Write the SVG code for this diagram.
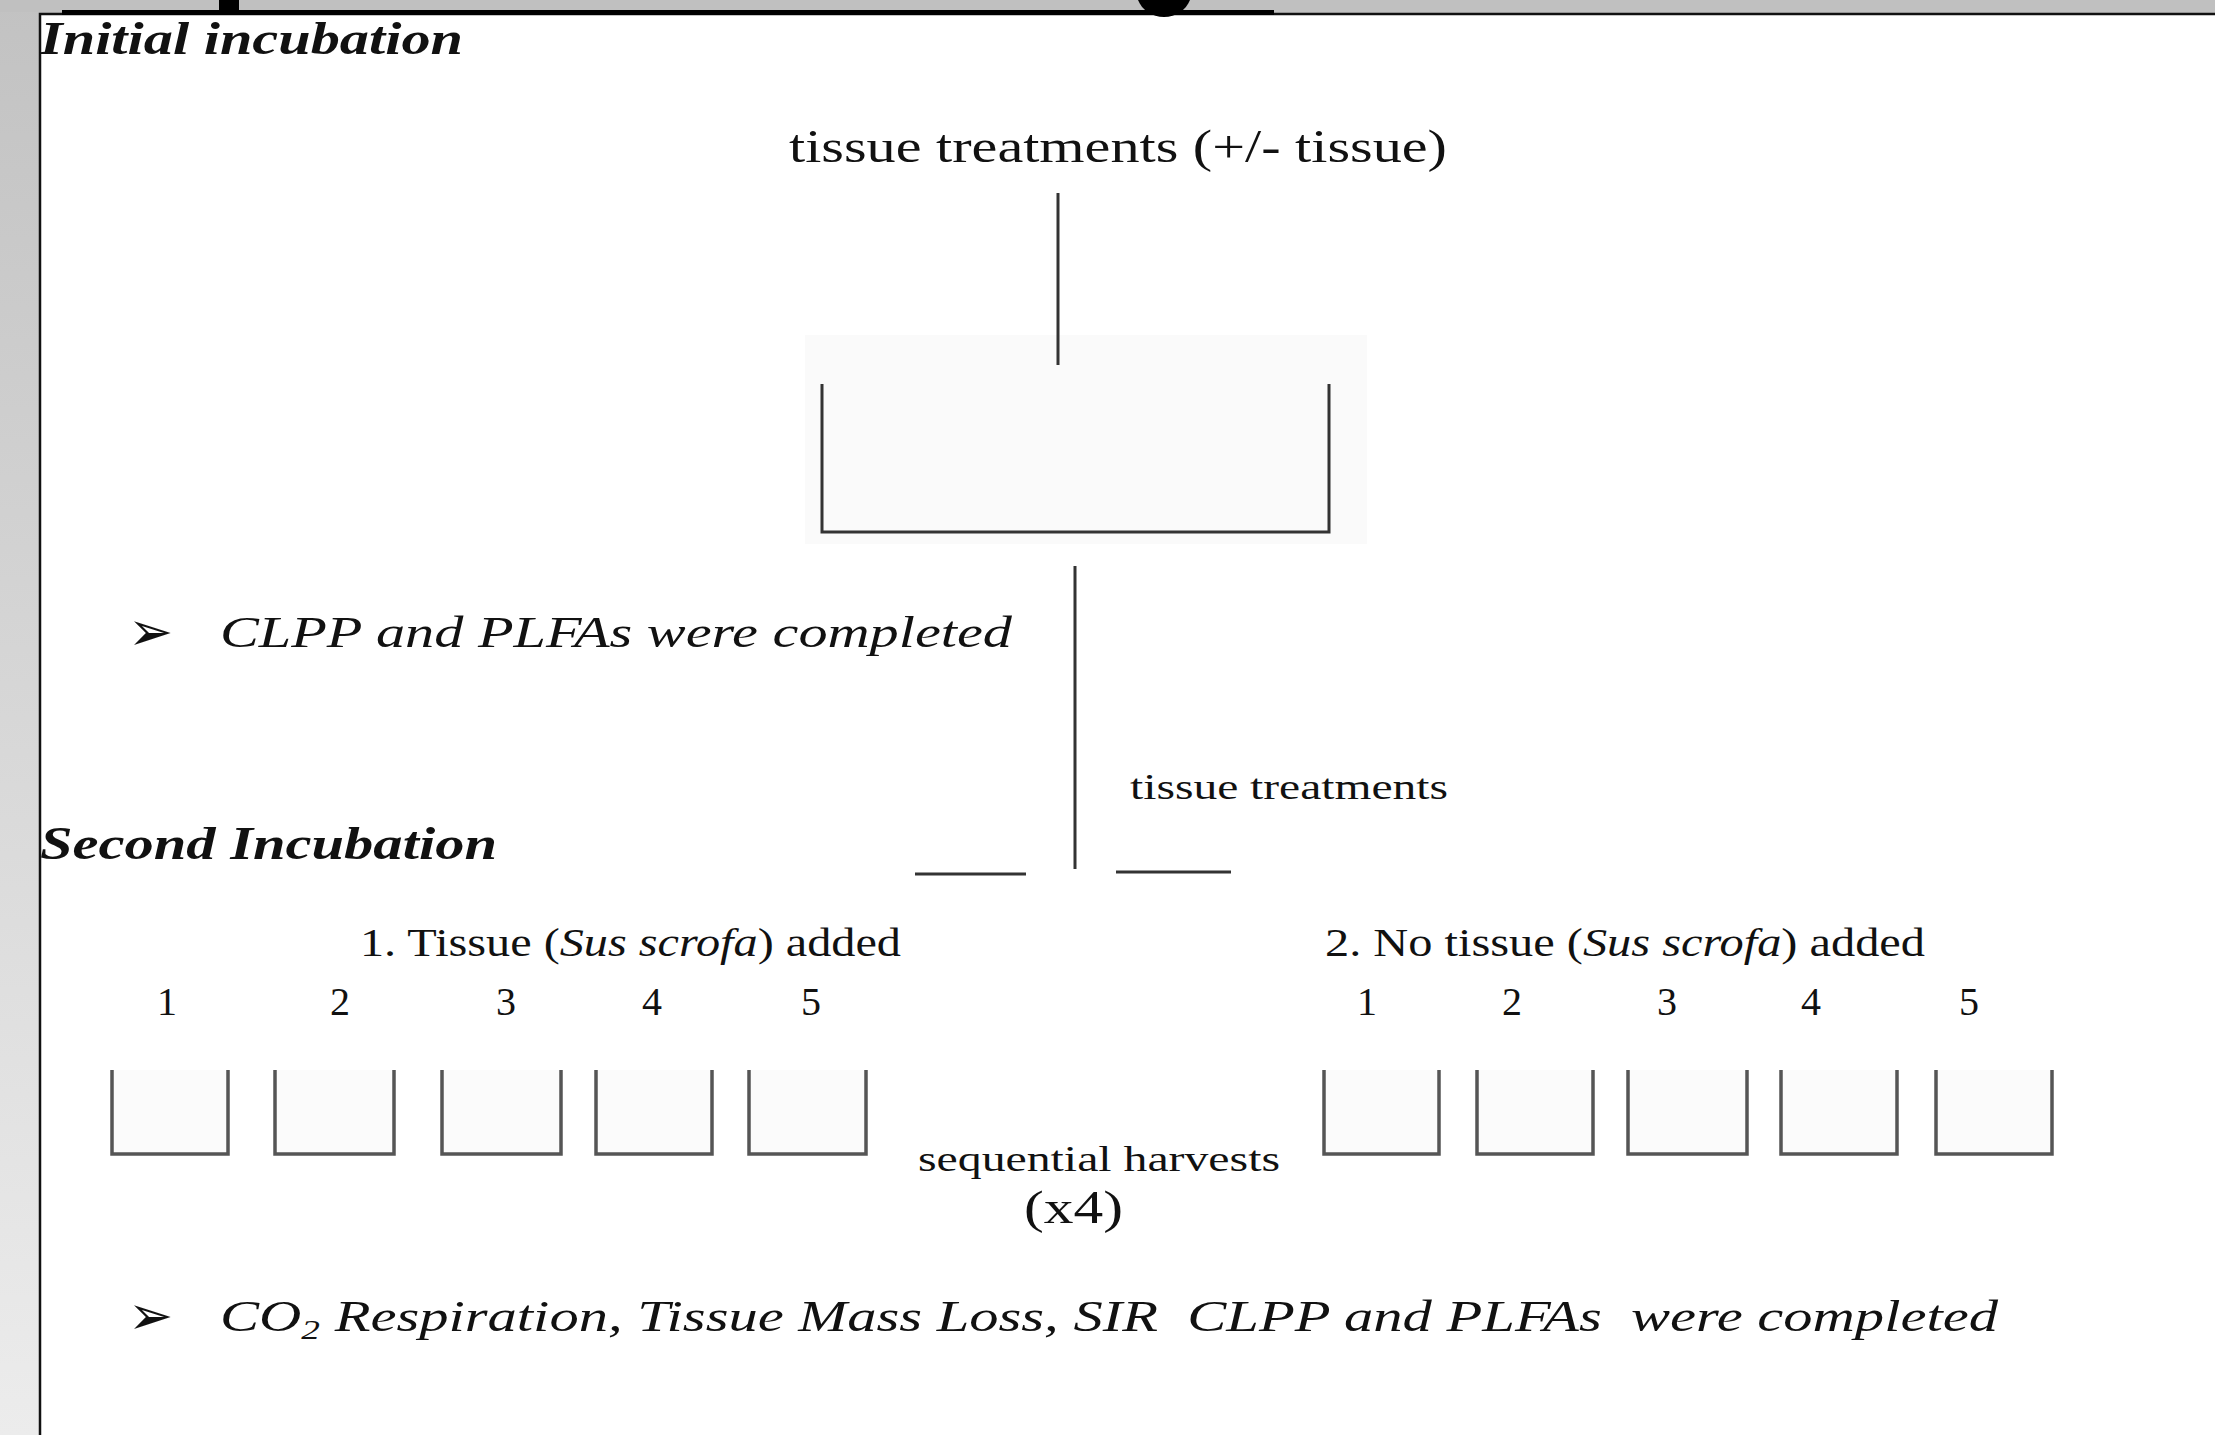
<svg xmlns="http://www.w3.org/2000/svg" width="2215" height="1435" viewBox="0 0 2215 1435">
<defs>
<linearGradient id="side" x1="0" y1="0" x2="0" y2="1">
<stop offset="0" stop-color="#c2c2c2"/>
<stop offset="1" stop-color="#ececec"/>
</linearGradient>
<style>
.serif{font-family:"Liberation Serif","Times New Roman",serif;fill:#111}
.head{font-weight:bold;font-style:italic;font-size:46px}
.note{font-style:italic;font-size:44px}
.lbl{font-size:40px}
.num{font-size:40px;text-anchor:middle}
.bul{font-family:"DejaVu Sans",sans-serif;font-size:54px;fill:#111}
.ln{stroke:#333;stroke-width:3;fill:none}
.cup{stroke:#555;stroke-width:3.5;fill:#fbfbfb}
</style>
</defs>

<!-- background -->
<rect x="0" y="0" width="2215" height="1435" fill="#c0c0c0"/>
<rect x="0" y="0" width="40" height="1435" fill="url(#side)"/>
<rect x="0" y="0" width="2215" height="12" fill="#c0c0c0"/>
<rect x="40" y="14" width="2180" height="1430" fill="#ffffff" stroke="#111" stroke-width="2.5"/>
<rect x="62" y="10" width="1212" height="5" fill="#000"/>
<rect x="219" y="0" width="20" height="11" fill="#000"/>
<path d="M1138,0 L1190,0 C1186,10 1176,17 1164,17 C1152,17 1142,10 1138,0 Z" fill="#000"/>

<!-- headings -->
<g id="heading-initial">
<text class="serif head" x="40" y="54" textLength="423" lengthAdjust="spacingAndGlyphs">Initial incubation</text>
</g>
<g id="heading-second">
<text class="serif head" x="40" y="859" textLength="457" lengthAdjust="spacingAndGlyphs">Second Incubation</text>
</g>

<!-- initial treatment label -->
<g id="node-treatments">
<text class="serif" x="789" y="162" font-size="46" textLength="658" lengthAdjust="spacingAndGlyphs">tissue treatments (+/- tissue)</text>
</g>

<!-- initial container -->
<g id="node-container">
<rect x="805" y="335" width="562" height="209" fill="#fafafa"/>
<path class="ln" d="M822,384 V532 H1329 V384"/>
</g>

<!-- note 1 -->
<g id="node-note1">
<text class="bul" x="128" y="650">➢</text>
<text class="serif note" x="220" y="647" textLength="792" lengthAdjust="spacingAndGlyphs">CLPP and PLFAs were completed</text>
</g>

<!-- second-level treatment label -->
<g id="node-treatments2">
<text class="serif" x="1130" y="799" font-size="35" textLength="318" lengthAdjust="spacingAndGlyphs">tissue treatments</text>
</g>

<!-- group labels -->
<g id="node-group1">
<text class="serif lbl" x="360" y="956" textLength="541" lengthAdjust="spacingAndGlyphs">1. Tissue (<tspan font-style="italic">Sus scrofa</tspan>) added</text>
</g>
<g id="node-group2">
<text class="serif lbl" x="1325" y="956" textLength="600" lengthAdjust="spacingAndGlyphs">2. No tissue (<tspan font-style="italic">Sus scrofa</tspan>) added</text>
</g>

<!-- replicate numbers -->
<g id="node-numbers1">
<text class="serif num" x="167" y="1015">1</text>
<text class="serif num" x="340" y="1015">2</text>
<text class="serif num" x="506" y="1015">3</text>
<text class="serif num" x="652" y="1015">4</text>
<text class="serif num" x="811" y="1015">5</text>
</g>
<g id="node-numbers2">
<text class="serif num" x="1367" y="1015">1</text>
<text class="serif num" x="1512" y="1015">2</text>
<text class="serif num" x="1667" y="1015">3</text>
<text class="serif num" x="1811" y="1015">4</text>
<text class="serif num" x="1969" y="1015">5</text>
</g>

<!-- replicate cups group 1 -->
<g id="node-cups1">
<path class="cup" d="M112,1070 V1154 H228 V1070"/>
<path class="cup" d="M275,1070 V1154 H394 V1070"/>
<path class="cup" d="M442,1070 V1154 H561 V1070"/>
<path class="cup" d="M596,1070 V1154 H712 V1070"/>
<path class="cup" d="M749,1070 V1154 H866 V1070"/>
</g>
<!-- replicate cups group 2 -->
<g id="node-cups2">
<path class="cup" d="M1324,1070 V1154 H1439 V1070"/>
<path class="cup" d="M1477,1070 V1154 H1593 V1070"/>
<path class="cup" d="M1628,1070 V1154 H1747 V1070"/>
<path class="cup" d="M1781,1070 V1154 H1897 V1070"/>
<path class="cup" d="M1936,1070 V1154 H2052 V1070"/>
</g>

<!-- harvest label -->
<g id="node-harvests">
<text class="serif" x="918" y="1171" font-size="35" textLength="362" lengthAdjust="spacingAndGlyphs">sequential harvests</text>
<text class="serif" x="1024" y="1223" font-size="46" textLength="99" lengthAdjust="spacingAndGlyphs">(x4)</text>
</g>

<!-- note 2 -->
<g id="node-note2">
<text class="bul" x="128" y="1334">➢</text>
<text class="serif note" x="220" y="1331" textLength="1778" lengthAdjust="spacingAndGlyphs">CO<tspan font-size="28" dy="8">2</tspan><tspan dy="-8"> Respiration, Tissue Mass Loss, SIR&#160; CLPP and PLFAs&#160; were completed</tspan></text>
</g>

<!-- connectors -->
<g id="connectors">
<line class="ln" x1="1058" y1="193" x2="1058" y2="365"/>
<line class="ln" x1="1075" y1="566" x2="1075" y2="869"/>
<line class="ln" x1="915" y1="874" x2="1026" y2="874"/>
<line class="ln" x1="1116" y1="872" x2="1231" y2="872"/>
</g>
</svg>
